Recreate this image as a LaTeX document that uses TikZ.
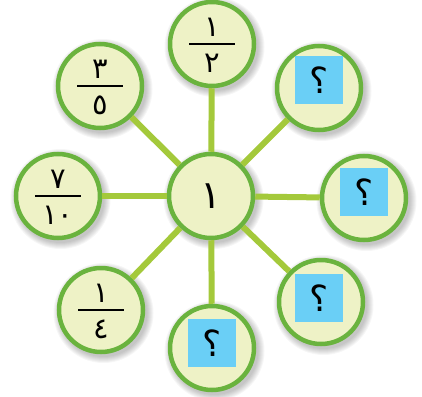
\documentclass[tikz,border=0pt]{standalone}
\usepackage{fontspec}
\newfontfamily\arabicfont[Script=Arabic]{DejaVu Sans}
\usetikzlibrary{calc}
\definecolor{ringgreen}{HTML}{6AB33E}
\definecolor{spokegreen}{HTML}{A4C93B}
\definecolor{discfill}{HTML}{EEF2C6}
\definecolor{qblue}{HTML}{6ACFF6}
\tikzset{
  bubble/.style={circle,draw=ringgreen,fill=discfill,line width=4.5pt,minimum size=84pt,inner sep=0pt},
  spoke/.style={draw=spokegreen,line width=6pt},
  digit/.style={font=\arabicfont\fontsize{29}{29}\selectfont,inner sep=0pt},
  bigdigit/.style={font=\arabicfont\fontsize{39}{39}\selectfont,inner sep=0pt},
  qbox/.style={fill=qblue,minimum width=48pt,minimum height=48pt,inner sep=0pt,
     font=\arabicfont\fontsize{36}{36}\selectfont},
  fracbar/.style={draw=black,line width=1.6pt},
}
\newcommand\shadowat[1]{%
  \foreach \k in {0,...,6}{\fill[black,opacity=0.035] ($(#1)+(2.5,3)$) circle[radius={44+\k}];}}
\newcommand\fracin[3]{%
  \coordinate (#1barL) at ($(#1)+(-23,0)$);
  \coordinate (#1barR) at ($(#1)+(23,0)$);
  \draw[fracbar] (#1barL) -- (#1barR);
  \node[digit,anchor=south] (#1num) at ($(#1)+(0,-7)$) {#2};
  \node[digit,anchor=north] (#1den) at ($(#1)+(0,10)$) {#3};}
\begin{document}
\begin{tikzpicture}[x=1pt,y=-1pt]
\useasboundingbox (0,0) rectangle (422,396);
\coordinate (pc) at (211,196);
\coordinate (pt) at (212,44);
\coordinate (pul) at (100,86);
\coordinate (pl) at (58,196);
\coordinate (pll) at (101,310);
\coordinate (pb) at (212,348);
\coordinate (plr) at (321,302);
\coordinate (pr) at (364,198);
\coordinate (pur) at (319,88);
\foreach \p in {pc,pt,pul,pl,pll,pb,plr,pr,pur}{\shadowat{\p}}
\node[bubble] (c) at (pc) {};
\node[bubble] (t) at (pt) {};
\node[bubble] (ul) at (pul) {};
\node[bubble] (l) at (pl) {};
\node[bubble] (ll) at (pll) {};
\node[bubble] (b) at (pb) {};
\node[bubble] (lr) at (plr) {};
\node[bubble] (r) at (pr) {};
\node[bubble] (ur) at (pur) {};
\foreach \o in {t,ul,l,ll,b,lr,r,ur}{\draw[spoke] (c) -- (\o);}
\node[bigdigit] (cn) at (pc) {١};
\fracin{pt}{١}{٢}
\fracin{pul}{٣}{٥}
\fracin{pl}{٧}{١٠}
\fracin{pll}{١}{٤}
\node[qbox] (qur) at ($(pur)+(0,-8)$) {؟};
\node[qbox] (qr) at ($(pr)+(0,-6)$) {؟};
\node[qbox] (qlr) at ($(plr)+(-2,-4)$) {؟};
\node[qbox] (qb) at ($(pb)+(0,-5)$) {؟};
\end{tikzpicture}
\end{document}
